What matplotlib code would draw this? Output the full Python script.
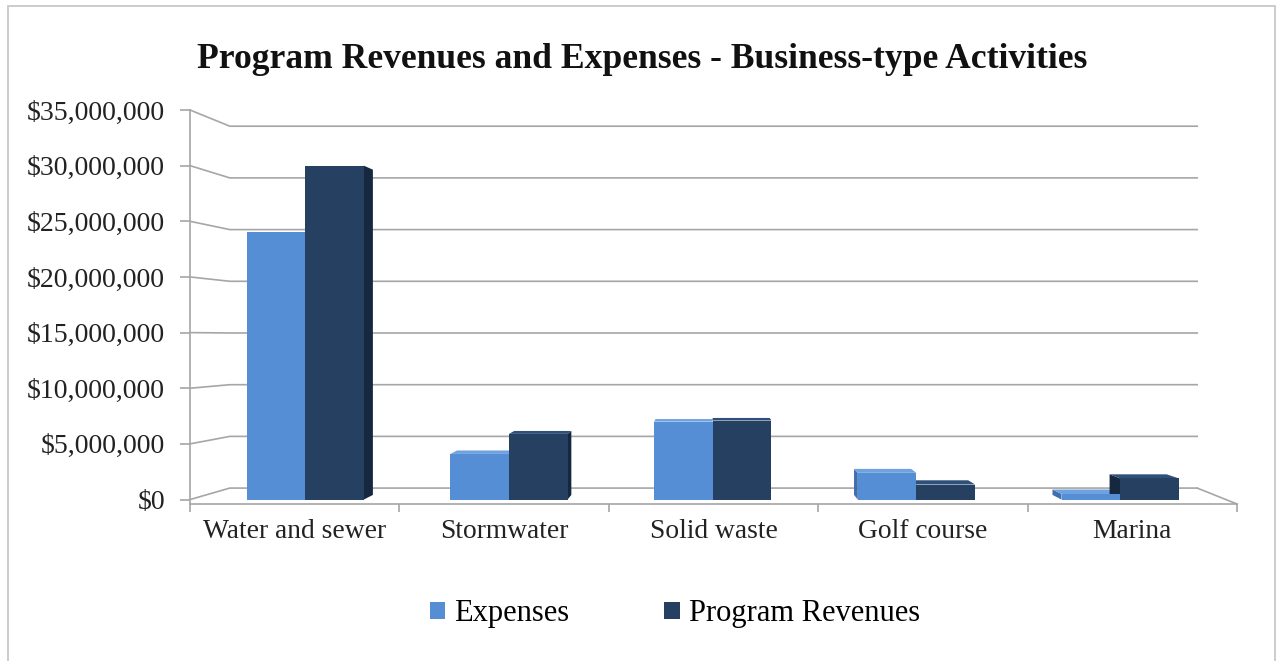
import matplotlib
matplotlib.use("Agg")
import matplotlib.pyplot as plt
from matplotlib.patches import Polygon, Rectangle
from matplotlib.ticker import FuncFormatter
import numpy as np

categories = ["Water and sewer", "Stormwater", "Solid waste", "Golf course", "Marina"]
expenses = [24_000_000, 4_100_000, 7_000_000, 2_400_000, 500_000]
revenues = [30_000_000, 5_900_000, 7_100_000, 1_350_000, 1_900_000]
series_names = ["Expenses", "Program Revenues"]
yticks = [0, 5_000_000, 10_000_000, 15_000_000, 20_000_000, 25_000_000, 30_000_000, 35_000_000]
title = "Program Revenues and Expenses - Business-type Activities"

c_exp = "#558ED5"
c_rev = "#254061"
c_exp_top, c_exp_side = "#6FA2E0", "#3E6FAE"
c_rev_top, c_rev_side = "#2F5079", "#16283F"
grid_c = "#A6A6A6"
serif = ["Liberation Serif", "DejaVu Serif"]

W, H = 1277, 661
fig = plt.figure(figsize=(W / 100, H / 100), dpi=100)
fig.patch.set_facecolor("white")

# chart border
fig.add_artist(Rectangle((8 / W, -0.05), (1275 - 8) / W, (H - 6) / H + 0.05,
                         transform=fig.transFigure, fill=False, ec="#C8C8C8", lw=1.3))

ax_l, ax_r, ax_b, ax_t = 190, 1237, 504, 110
ax = fig.add_axes([ax_l / W, (H - ax_b) / H, (ax_r - ax_l) / W, (ax_b - ax_t) / H])
ymin, ymax = -0.4e6, 35e6
ax.set_xlim(-0.5, len(categories) - 0.5)
ax.set_ylim(ymin, ymax)
ax.set_facecolor("none")

# perspective back wall gridlines
xb_left, xb_right = -0.31, 4.31
def back(v):
    return 1.03e6 + 0.929 * v
for v in yticks:
    ax.plot([-0.5, xb_left, xb_right], [v, back(v), back(v)], color=grid_c, lw=1.2,
            zorder=1, clip_on=False, solid_joinstyle="miter")
# right floor edge
ax.plot([xb_right, len(categories) - 0.5], [back(0), ymin], color=grid_c, lw=1.2,
        zorder=1, clip_on=False)

# bars with pseudo 3D faces
w = 0.28
s = 0.026
vx, vy = 2.0, 16e6
n = len(categories)
centers = np.arange(n) + 0.05 - 0.027 * np.arange(n)
for vals, off, cf, ct, cs in [(expenses, -w / 2, c_exp, c_exp_top, c_exp_side),
                              (revenues, w / 2, c_rev, c_rev_top, c_rev_side)]:
    xs = centers + off
    ax.bar(xs, vals, width=w, color=cf, zorder=4, linewidth=0)
    for x, h in zip(xs, vals):
        xl, xr = x - w / 2, x + w / 2
        def bp(px, py):
            return (px + s * (vx - px), py + s * (vy - py))
        if xr < vx:
            ax.add_patch(Polygon([(xr, 0), (xr, h), bp(xr, h), bp(xr, 0)],
                                 closed=True, fc=cs, ec="none", zorder=3))
        if xl > vx:
            ax.add_patch(Polygon([(xl, 0), (xl, h), bp(xl, h), bp(xl, 0)],
                                 closed=True, fc=cs, ec="none", zorder=3))
        if h < vy:
            ax.add_patch(Polygon([(xl, h), (xr, h), bp(xr, h), bp(xl, h)],
                                 closed=True, fc=ct, ec="none", zorder=3))

# axes styling
for sp in ["top", "right"]:
    ax.spines[sp].set_visible(False)
for sp in ["left", "bottom"]:
    ax.spines[sp].set_color(grid_c)
    ax.spines[sp].set_linewidth(1.2)
ax.set_yticks(yticks)
ax.yaxis.set_major_formatter(FuncFormatter(lambda v, p: "${:,.0f}".format(v)))
ax.tick_params(axis="y", length=7, color=grid_c, width=1.2, pad=11, labelsize=20,
               labelcolor="#222222")
ax.set_xticks(np.arange(n))
ax.set_xticklabels(categories)
ax.set_xticks(np.arange(n + 1) - 0.5, minor=True)
ax.tick_params(axis="x", which="major", length=0, pad=11, labelsize=19.8, labelcolor="#222222")
ax.tick_params(axis="x", which="minor", length=6, color=grid_c, width=1.2)
for lab in ax.get_xticklabels() + ax.get_yticklabels():
    lab.set_family(serif)

fig.text(642 / W, 1 - 60 / H, title, ha="center", va="center", fontsize=25.6,
         fontweight="bold", family=serif, color="#111111")

handles = [Rectangle((0, 0), 1, 1, fc=c_exp), Rectangle((0, 0), 1, 1, fc=c_rev)]
fig.legend(handles, series_names, loc="center", bbox_to_anchor=(675 / W, 1 - 614 / H),
           ncol=2, frameon=False, prop={"family": serif, "size": 22},
           handlelength=0.5, handleheight=0.5, handletextpad=0.3, columnspacing=3.1)

fig.savefig("out.png", dpi=100)
